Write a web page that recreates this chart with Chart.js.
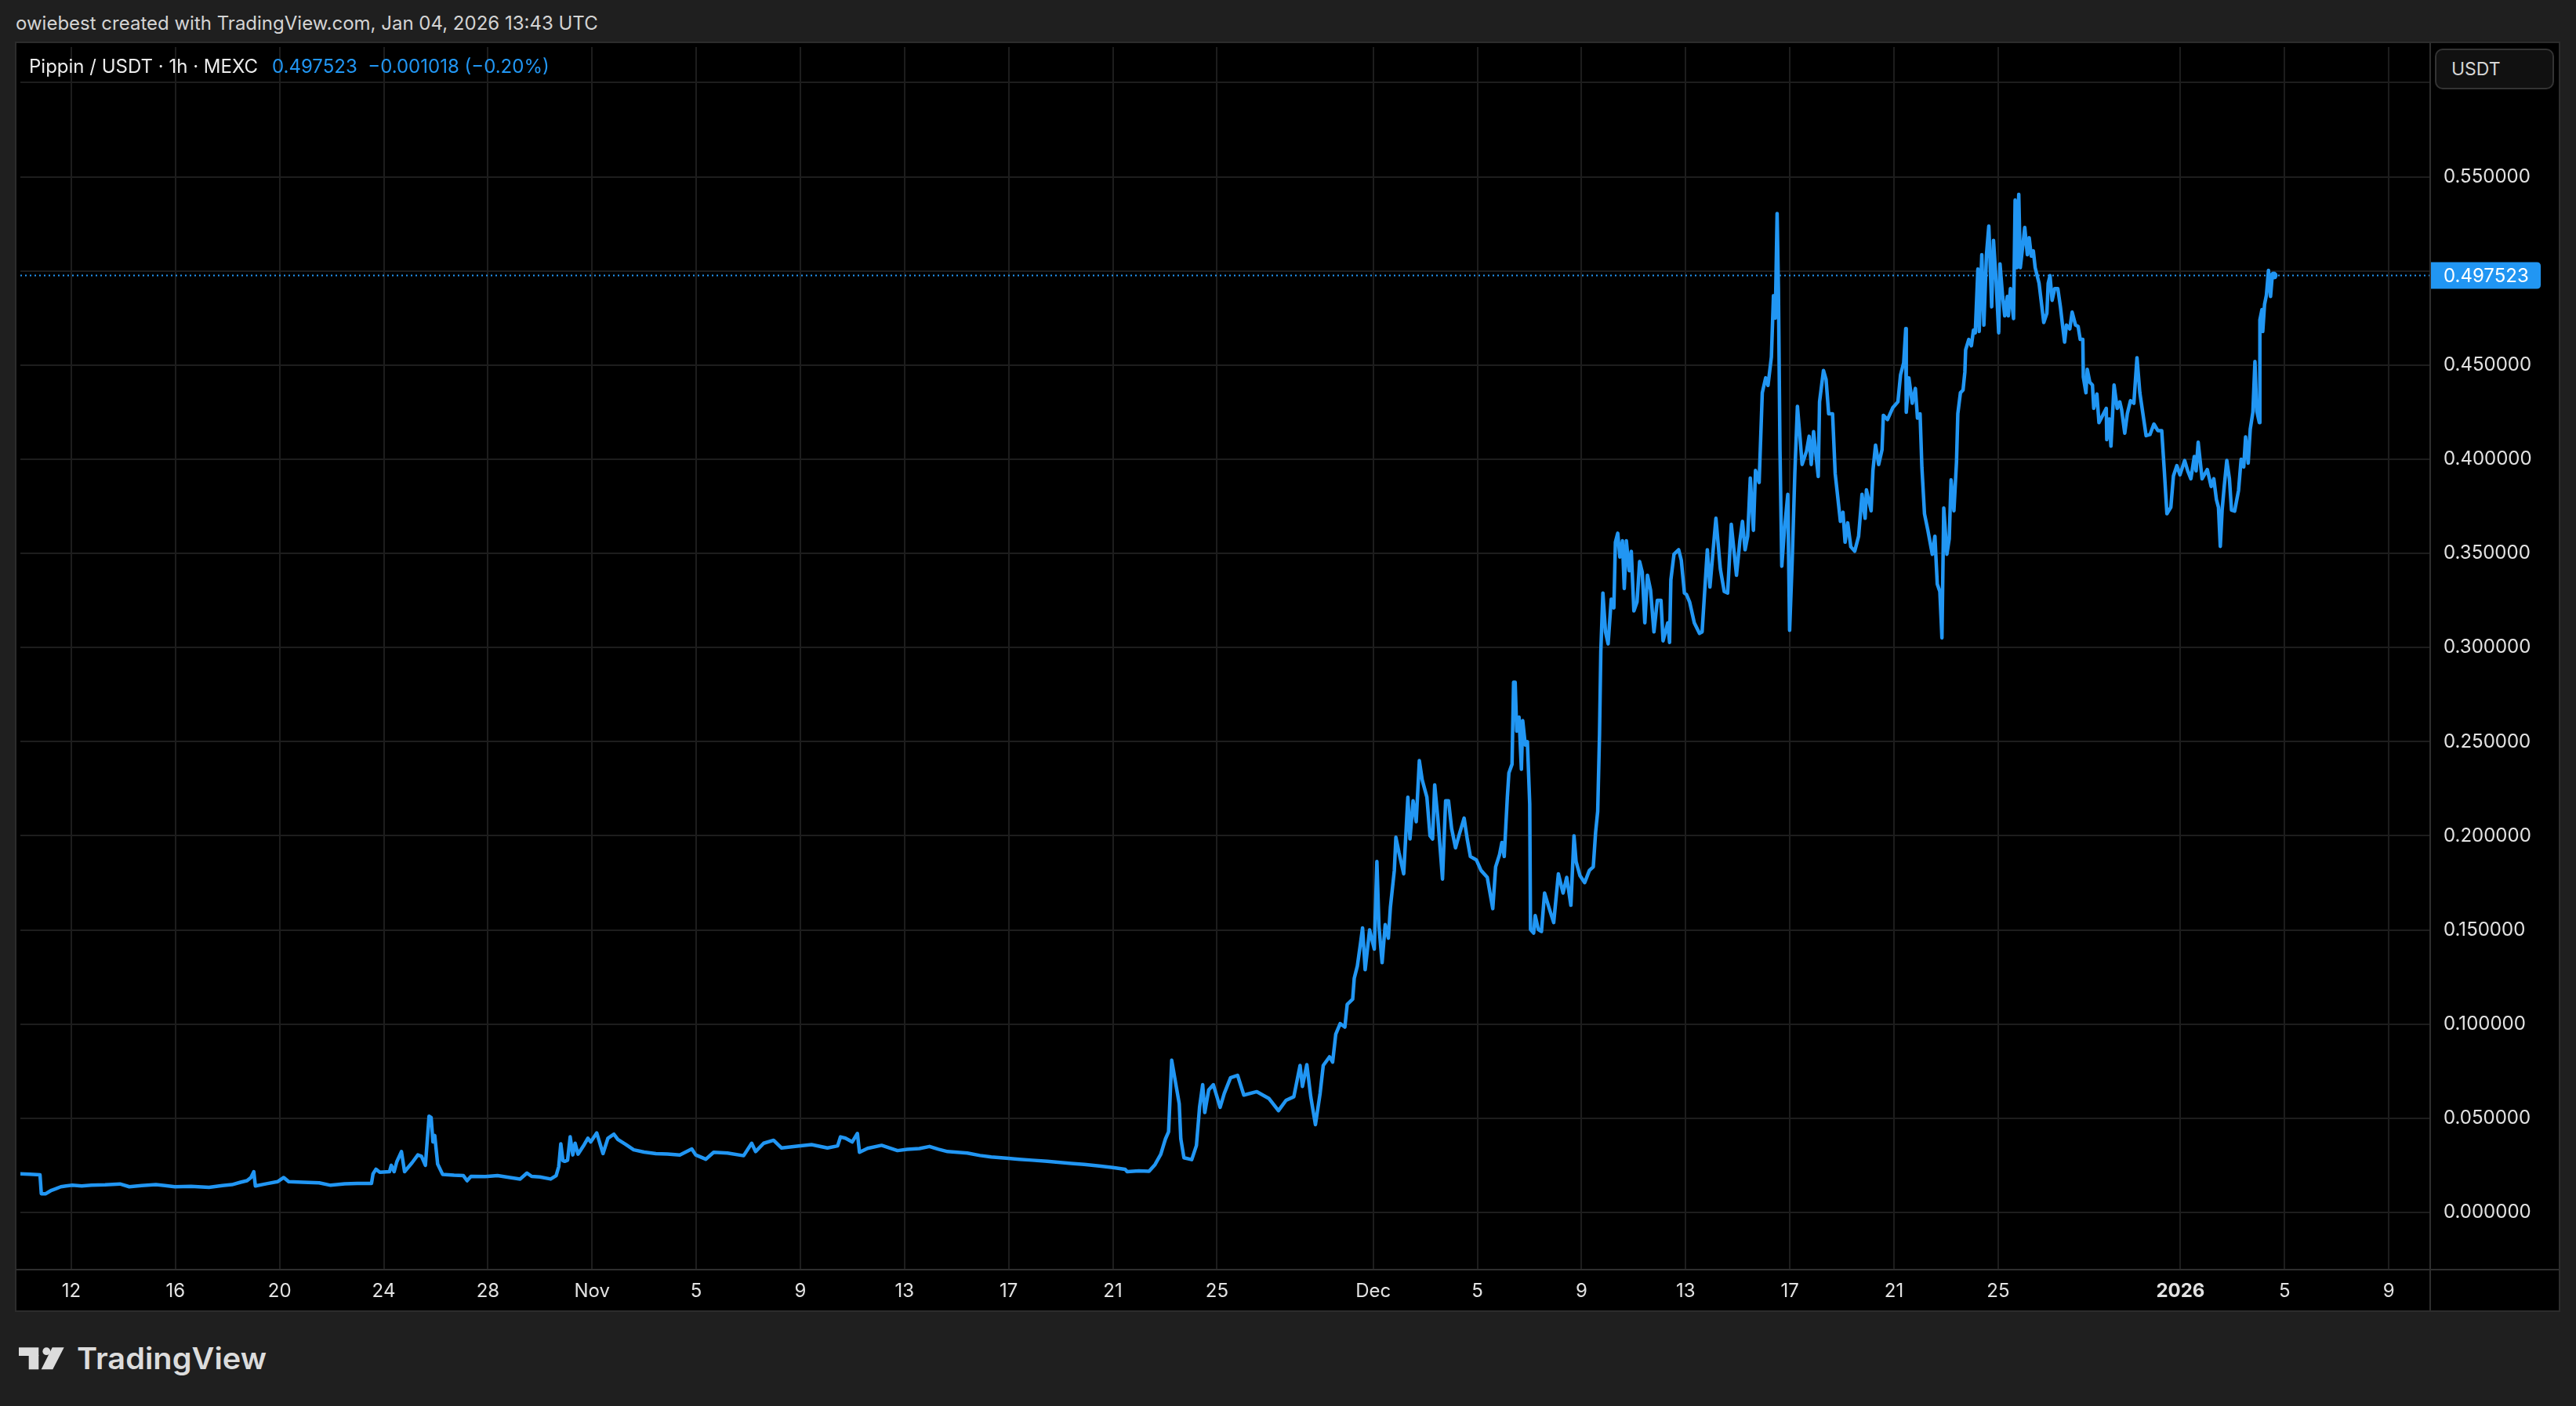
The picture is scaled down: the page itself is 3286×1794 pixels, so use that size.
<!DOCTYPE html>
<html>
<head>
<meta charset="utf-8">
<script src="https://cdn.jsdelivr.net/npm/chart.js@4.4.1/dist/chart.umd.min.js"></script>
<style>
  html, body { margin: 0; padding: 0; width: 3286px; height: 1794px; overflow: hidden; background: #1f1f1f; font-family: Inter, "Noto Sans", sans-serif; }
  #credit { position: absolute; left: 20px; top: 15px; font-size: 24px; color: #d4d4d4; white-space: nowrap; }
  #panel { position: absolute; left: 19px; top: 53px; width: 3247px; height: 1621px; box-sizing: border-box; border: 2px solid #2c2c2c; background: #000; }
  #chart { position: absolute; left: 21px; top: 55px; }
  #legend { position: absolute; left: 37px; top: 70px; font-size: 24px; color: #ececec; white-space: nowrap; }
  #legend .val { color: #2196f3; margin-left: 18px; }
  #unit { position: absolute; left: 3106px; top: 62px; width: 152px; height: 52px; box-sizing: border-box; border: 2px solid #333; border-radius: 10px; background: #111; color: #d6d6d6; font-size: 23px; line-height: 48px; padding-left: 19px; }
  #logo { position: absolute; left: 20px; top: 1715px; }
</style>
</head>
<body>
<div id="credit">owiebest created with TradingView.com, Jan 04, 2026 13:43 UTC</div>
<div id="panel"></div>
<canvas id="chart" width="3243" height="1617"></canvas>
<div id="legend">Pippin / USDT · 1h · MEXC<span class="val">0.497523&nbsp;&nbsp;−0.001018 (−0.20%)</span></div>
<div id="unit">USDT</div>
<svg id="logo" width="340" height="44" viewBox="0 0 340 44">
  <rect x="4" y="4.3" width="25.3" height="10.7" fill="#dcdcdc"/>
  <rect x="16.7" y="14" width="12.6" height="18.3" fill="#dcdcdc"/>
  <circle cx="39.3" cy="9.2" r="4.9" fill="#dcdcdc"/>
  <polygon points="46.7,4.3 61.7,4.3 47.3,32.3 32.7,32.3" fill="#dcdcdc"/>
  <text x="78" y="32.3" font-family="Inter, sans-serif" font-weight="600" font-size="38" fill="#dcdcdc" textLength="242" lengthAdjust="spacingAndGlyphs">TradingView</text>
</svg>
<script>
// time in days since Oct 1 2025, price in USDT (1h Pippin/USDT, MEXC)
const octDays = [9.0, 9.4, 9.8, 9.85, 10.02, 10.15, 10.24, 10.4, 10.6, 10.8, 11.04, 11.4, 11.77, 12.3, 12.87, 13.23, 13.7, 14.25, 14.6, 14.98, 15.6, 16.29, 16.8, 17.17, 17.5, 17.75, 17.9, 18.01, 18.07, 18.5, 18.92, 19.16, 19.35, 19.9, 20.52, 20.96, 21.5, 21.98, 22.53, 22.59, 22.7, 22.85, 23.22, 23.29, 23.4, 23.5, 23.68, 23.8, 24.09, 24.31, 24.45, 24.6, 24.74, 24.82, 24.89, 24.96, 25.07, 25.26, 25.7, 26.06, 26.2, 26.35, 26.9, 27.37, 27.8, 28.24, 28.5, 28.68, 29.0, 29.41, 29.62, 29.72, 29.8, 29.88, 29.95, 30.06, 30.16, 30.26, 30.35, 30.46, 30.7, 30.84, 30.95];
const octPrices = [0.0205, 0.0203, 0.0199, 0.0099, 0.0099, 0.0110, 0.0117, 0.0125, 0.0136, 0.0140, 0.0144, 0.0140, 0.0144, 0.0146, 0.0151, 0.0136, 0.0142, 0.0147, 0.0142, 0.0136, 0.0138, 0.0133, 0.0142, 0.0147, 0.0160, 0.0168, 0.0185, 0.0216, 0.0140, 0.0152, 0.0163, 0.0185, 0.0163, 0.0160, 0.0157, 0.0144, 0.0152, 0.0154, 0.0154, 0.0205, 0.0229, 0.0213, 0.0216, 0.0250, 0.0216, 0.0268, 0.0323, 0.0216, 0.0264, 0.0305, 0.0298, 0.0250, 0.0511, 0.0504, 0.0374, 0.0408, 0.0257, 0.0202, 0.0197, 0.0195, 0.0168, 0.0191, 0.0190, 0.0195, 0.0186, 0.0177, 0.0209, 0.0191, 0.0188, 0.0177, 0.0195, 0.0243, 0.0364, 0.0275, 0.0271, 0.0277, 0.0401, 0.0305, 0.0367, 0.0309, 0.0360, 0.0394, 0.0374];

const novDays = [31.18, 31.42, 31.61, 31.84, 31.99, 32.3, 32.6, 33.0, 33.45, 33.9, 34.37, 34.83, 34.98, 35.37, 35.67, 36.2, 36.82, 37.13, 37.28, 37.59, 37.97, 38.28, 38.8, 39.43, 40.04, 40.43, 40.54, 40.73, 40.99, 41.19, 41.27, 41.58, 42.12, 42.73, 43.1, 43.57, 43.96, 44.3, 44.65, 45.41, 45.9, 46.33, 46.9, 47.41, 47.9, 48.48, 49.4, 49.9, 50.48, 51.0, 51.47, 51.55, 52.0, 52.39, 52.62, 52.84, 53.02, 53.14, 53.26, 53.41, 53.55, 53.61, 53.73, 54.03, 54.21, 54.33, 54.45, 54.53, 54.68, 54.86, 55.12, 55.28, 55.52, 55.79, 56.03, 56.53, 57.0, 57.36, 57.65, 57.95, 58.19, 58.28, 58.45, 58.6, 58.78, 58.96, 59.08, 59.32, 59.44, 59.56, 59.73, 59.91, 60.0, 60.21, 60.27, 60.39, 60.51, 60.59, 60.69, 60.86];
const novPrices = [0.0422, 0.0312, 0.0394, 0.0415, 0.0387, 0.0360, 0.0332, 0.0320, 0.0312, 0.0310, 0.0305, 0.0337, 0.0305, 0.0282, 0.0319, 0.0315, 0.0301, 0.0367, 0.0323, 0.0367, 0.0383, 0.0342, 0.0350, 0.0360, 0.0342, 0.0353, 0.0401, 0.0394, 0.0374, 0.0419, 0.0319, 0.0340, 0.0356, 0.0328, 0.0335, 0.0339, 0.0350, 0.0335, 0.0323, 0.0315, 0.0302, 0.0294, 0.0288, 0.0282, 0.0277, 0.0271, 0.0260, 0.0255, 0.0246, 0.0238, 0.0229, 0.0216, 0.0220, 0.0218, 0.0254, 0.0308, 0.0390, 0.0428, 0.0808, 0.0688, 0.0577, 0.0390, 0.0290, 0.0280, 0.0355, 0.0558, 0.0678, 0.0530, 0.0650, 0.0678, 0.0558, 0.0632, 0.0715, 0.0728, 0.0623, 0.0641, 0.0604, 0.0540, 0.0595, 0.0614, 0.0780, 0.0669, 0.0784, 0.0614, 0.0466, 0.0632, 0.0780, 0.0826, 0.0798, 0.0946, 0.1002, 0.0984, 0.1104, 0.1132, 0.1243, 0.1308, 0.1428, 0.1511, 0.1289, 0.1500];

const decDays = [61.04, 61.14, 61.22, 61.34, 61.46, 61.58, 61.66, 61.81, 61.87, 61.99, 62.17, 62.33, 62.41, 62.53, 62.65, 62.77, 62.88, 63.06, 63.18, 63.28, 63.36, 63.48, 63.66, 63.78, 63.89, 64.01, 64.16, 64.31, 64.49, 64.61, 64.73, 64.96, 65.14, 65.38, 65.59, 65.7, 65.85, 65.94, 66.03, 66.15, 66.21, 66.33, 66.39, 66.45, 66.51, 66.6, 66.69, 66.74, 66.84, 66.92, 67.01, 67.04, 67.16, 67.22, 67.34, 67.46, 67.58, 67.76, 67.93, 68.11, 68.29, 68.43, 68.59, 68.71, 68.79, 68.94, 69.12, 69.3, 69.45, 69.54, 69.62, 69.69, 69.74, 69.82, 69.92, 70.02, 70.14, 70.24, 70.3, 70.39, 70.47, 70.57, 70.64, 70.72, 70.83, 70.91, 71.01, 71.13, 71.23, 71.33, 71.43, 71.53, 71.65, 71.78, 71.91, 72.05, 72.13, 72.31, 72.38, 72.43, 72.55, 72.73, 72.83, 72.95, 73.03, 73.15, 73.33, 73.53, 73.63, 73.83, 73.93, 74.03, 74.16, 74.33, 74.48, 74.61, 74.75, 74.95, 75.08, 75.18, 75.28, 75.38, 75.48, 75.6, 75.68, 75.82, 75.94, 76.07, 76.16, 76.29, 76.37, 76.44, 76.51, 76.56, 76.62, 76.69, 76.79, 76.92, 76.99, 77.09, 77.19, 77.29, 77.39, 77.47, 77.64, 77.74, 77.82, 77.91, 78.09, 78.14, 78.29, 78.39, 78.49, 78.64, 78.74, 78.89, 78.94, 79.04, 79.12, 79.22, 79.34, 79.49, 79.64, 79.77, 79.89, 79.94, 80.12, 80.19, 80.29, 80.41, 80.54, 80.59, 80.75, 80.95, 81.15, 81.25, 81.37, 81.45, 81.47, 81.57, 81.7, 81.82, 81.9, 82.0, 82.07, 82.17, 82.3, 82.47, 82.57, 82.66, 82.76, 82.84, 82.91, 83.03, 83.12, 83.19, 83.3, 83.4, 83.45, 83.55, 83.65, 83.72, 83.75, 83.87, 83.97, 84.05, 84.12, 84.22, 84.27, 84.37, 84.45, 84.55, 84.64, 84.75, 84.82, 84.92, 85.02, 85.07, 85.17, 85.25, 85.35, 85.39, 85.47, 85.59, 85.65, 85.72, 85.79, 85.85, 85.95, 86.02, 86.12, 86.19, 86.27, 86.35, 86.42, 86.57, 86.75, 86.87, 86.92, 86.99, 87.07, 87.17, 87.29, 87.39, 87.47, 87.55, 87.62, 87.75, 87.84, 87.97, 88.07, 88.15, 88.25, 88.27, 88.37, 88.42, 88.52, 88.62, 88.67, 88.79, 88.87, 89.02, 89.15, 89.17, 89.27, 89.33, 89.45, 89.57, 89.67, 89.74, 89.86, 89.96, 90.08, 90.21, 90.33, 90.44, 90.63, 90.68, 90.83, 90.98, 91.13, 91.28, 91.38, 91.48, 91.63, 91.73, 91.86, 91.98];
const decPrices = [0.1398, 0.1863, 0.1519, 0.1326, 0.1528, 0.1456, 0.1622, 0.1816, 0.1992, 0.1909, 0.1798, 0.2205, 0.1983, 0.2186, 0.2075, 0.2399, 0.2297, 0.2205, 0.2000, 0.1983, 0.2270, 0.2094, 0.1770, 0.2186, 0.2186, 0.2038, 0.1936, 0.2010, 0.2094, 0.1983, 0.1890, 0.1872, 0.1816, 0.1779, 0.1613, 0.1835, 0.1900, 0.1964, 0.1890, 0.2205, 0.2334, 0.2380, 0.2815, 0.2815, 0.2556, 0.2630, 0.2353, 0.2612, 0.2482, 0.2500, 0.2168, 0.1502, 0.1483, 0.1576, 0.1502, 0.1492, 0.1696, 0.1613, 0.1539, 0.1798, 0.1696, 0.1779, 0.1631, 0.2000, 0.1863, 0.1788, 0.1751, 0.1816, 0.1835, 0.2019, 0.2130, 0.2538, 0.2982, 0.3289, 0.3083, 0.3019, 0.3257, 0.3210, 0.3559, 0.3607, 0.3480, 0.3567, 0.3313, 0.3567, 0.3408, 0.3511, 0.3194, 0.3242, 0.3456, 0.3400, 0.3131, 0.3384, 0.3305, 0.3083, 0.3250, 0.3250, 0.3035, 0.3131, 0.3027, 0.3360, 0.3495, 0.3519, 0.3464, 0.3289, 0.3281, 0.3242, 0.3131, 0.3075, 0.3083, 0.3519, 0.3321, 0.3480, 0.3686, 0.3416, 0.3297, 0.3289, 0.3654, 0.3384, 0.3567, 0.3670, 0.3519, 0.3591, 0.3900, 0.3622, 0.3940, 0.3876, 0.4352, 0.4432, 0.4392, 0.4543, 0.4868, 0.4749, 0.5305, 0.4908, 0.4051, 0.3432, 0.3622, 0.3813, 0.3091, 0.3464, 0.3924, 0.4281, 0.4114, 0.3972, 0.4043, 0.4122, 0.3972, 0.4146, 0.3908, 0.4305, 0.4471, 0.4424, 0.4241, 0.4241, 0.3924, 0.3733, 0.3670, 0.3718, 0.3559, 0.3662, 0.3535, 0.3511, 0.3591, 0.3813, 0.3686, 0.3837, 0.3726, 0.3940, 0.4075, 0.3972, 0.4051, 0.4233, 0.4210, 0.4273, 0.4305, 0.4448, 0.4511, 0.4694, 0.4249, 0.4432, 0.4297, 0.4376, 0.4218, 0.4241, 0.3956, 0.3710, 0.3622, 0.3495, 0.3591, 0.3337, 0.3297, 0.3051, 0.3741, 0.3495, 0.3578, 0.3890, 0.3726, 0.3987, 0.4242, 0.4353, 0.4367, 0.4463, 0.4581, 0.4636, 0.4602, 0.4685, 0.4671, 0.5010, 0.4678, 0.5086, 0.4712, 0.5086, 0.5238, 0.4809, 0.5162, 0.4947, 0.4671, 0.5037, 0.4864, 0.4761, 0.4864, 0.4761, 0.4906, 0.4747, 0.5376, 0.5017, 0.5407, 0.5017, 0.5141, 0.5231, 0.5086, 0.5176, 0.5079, 0.5106, 0.5017, 0.4934, 0.4726, 0.4775, 0.4934, 0.4975, 0.4844, 0.4906, 0.4906, 0.4809, 0.4712, 0.4622, 0.4712, 0.4692, 0.4781, 0.4712, 0.4705, 0.4636, 0.4636, 0.4436, 0.4353, 0.4477, 0.4408, 0.4394, 0.4270, 0.4346, 0.4194, 0.4235, 0.4270, 0.4104, 0.4214, 0.4069, 0.4394, 0.4270, 0.4304, 0.4263, 0.4138, 0.4242, 0.4311, 0.4297, 0.4539, 0.4353, 0.4173, 0.4125, 0.4131, 0.4187, 0.4152, 0.4152, 0.3938, 0.3710, 0.3744, 0.3911, 0.3966, 0.3917];

const janDays = [92.16, 92.28, 92.4, 92.53, 92.6, 92.68, 92.83, 93.03, 93.18, 93.28, 93.38, 93.46, 93.53, 93.6, 93.68, 93.78, 93.88, 93.96, 94.08, 94.23, 94.33, 94.43, 94.5, 94.6, 94.68, 94.78, 94.86, 94.93, 95.03, 95.05, 95.13, 95.16, 95.23, 95.3, 95.38, 95.46, 95.53, 95.58];
const janPrices = [0.3993, 0.3938, 0.3896, 0.4014, 0.3938, 0.4090, 0.3896, 0.3945, 0.3855, 0.3896, 0.3786, 0.3744, 0.3537, 0.3730, 0.3855, 0.3993, 0.3896, 0.3730, 0.3724, 0.3834, 0.4000, 0.3959, 0.4118, 0.3979, 0.4159, 0.4249, 0.4519, 0.4256, 0.4194, 0.4740, 0.4795, 0.4678, 0.4823, 0.4871, 0.5003, 0.4864, 0.4982, 0.497523];

const lastPrice = 0.497523;

// axes
const dayTicks = [11, 15, 19, 23, 27, 31, 35, 39, 43, 47, 51, 55, 61, 65, 69, 73, 77, 81, 85, 92, 96, 100];
const dayLabels = ['12', '16', '20', '24', '28', 'Nov', '5', '9', '13', '17', '21', '25', 'Dec', '5', '9', '13', '17', '21', '25', '2026', '5', '9'];
const priceTicks = [0, 0.05, 0.1, 0.15, 0.2, 0.25, 0.3, 0.35, 0.4, 0.45, 0.5, 0.55, 0.6];
const dayRange = [9.046, 101.56];
const priceRange = [-0.03, 0.6189];

const BLUE = '#2196f3';
const GRID = '#1d1d1d';
const LINE = '#2e2e2e';
const TEXT = '#e2e2e2';

const days = octDays.concat(novDays, decDays, janDays);
const prices = octPrices.concat(novPrices, decPrices, janPrices);
const series = days.map((d, i) => ({ x: d, y: prices[i] }));

const panelLines = {
  id: 'panelLines',
  afterDraw(chart) {
    const { ctx, chartArea, width, height } = chart;
    ctx.save();
    ctx.strokeStyle = LINE;
    ctx.lineWidth = 2;
    ctx.beginPath();
    ctx.moveTo(chartArea.right + 1, 0);
    ctx.lineTo(chartArea.right + 1, height);
    ctx.moveTo(0, chartArea.bottom + 1);
    ctx.lineTo(width, chartArea.bottom + 1);
    ctx.stroke();

    // last price tag on the price scale
    const y = chart.scales.y.getPixelForValue(lastPrice);
    const x0 = chartArea.right + 2;
    const w = 140, h = 34, r = 5;
    ctx.fillStyle = BLUE;
    ctx.beginPath();
    ctx.moveTo(x0, y - h / 2);
    ctx.lineTo(x0 + w - r, y - h / 2);
    ctx.quadraticCurveTo(x0 + w, y - h / 2, x0 + w, y - h / 2 + r);
    ctx.lineTo(x0 + w, y + h / 2 - r);
    ctx.quadraticCurveTo(x0 + w, y + h / 2, x0 + w - r, y + h / 2);
    ctx.lineTo(x0, y + h / 2);
    ctx.closePath();
    ctx.fill();
    ctx.fillStyle = '#ffffff';
    ctx.font = '24px Inter, sans-serif';
    ctx.textBaseline = 'middle';
    ctx.textAlign = 'left';
    ctx.fillText(lastPrice.toFixed(6), chartArea.right + 18, y + 1);
    ctx.restore();
  }
};

new Chart(document.getElementById('chart'), {
  type: 'line',
  data: {
    datasets: [
      {
        data: series,
        borderColor: BLUE,
        borderWidth: 4.5,
        borderJoinStyle: 'round',
        tension: 0,
        pointRadius: (ctx) => (ctx.dataIndex === series.length - 1 ? 5 : 0),
        pointBackgroundColor: BLUE,
        pointBorderWidth: 0,
        order: 0,
      },
      {
        data: [{ x: dayRange[0], y: lastPrice }, { x: dayRange[1], y: lastPrice }],
        borderColor: BLUE,
        borderWidth: 2,
        borderDash: [2, 4],
        pointRadius: 0,
        order: 1,
      },
    ],
  },
  options: {
    responsive: false,
    animation: false,
    layout: { padding: 0 },
    plugins: { legend: { display: false }, tooltip: { enabled: false } },
    scales: {
      x: {
        type: 'linear',
        position: 'bottom',
        min: dayRange[0],
        max: dayRange[1],
        afterBuildTicks: (s) => { s.ticks = dayTicks.map((v) => ({ value: v })); },
        afterFit: (s) => { s.height = 53; s.paddingLeft = 0; s.paddingRight = 0; },
        grid: { color: GRID, lineWidth: 2, drawTicks: false },
        border: { display: false },
        ticks: {
          autoSkip: false,
          maxRotation: 0,
          padding: 14,
          color: TEXT,
          font: (ctx) => ({ family: 'Inter', size: 24, weight: dayLabels[ctx.index] === '2026' ? 'bold' : 'normal' }),
          callback: (v, i) => dayLabels[i],
        },
      },
      y: {
        type: 'linear',
        position: 'right',
        min: priceRange[0],
        max: priceRange[1],
        afterBuildTicks: (s) => { s.ticks = priceTicks.map((v) => ({ value: v })); },
        afterFit: (s) => { s.width = 165; s.paddingTop = 0; s.paddingBottom = 0; },
        grid: { color: GRID, lineWidth: 2, drawTicks: false },
        border: { display: false },
        ticks: {
          padding: 18,
          color: TEXT,
          font: { family: 'Inter', size: 24 },
          callback: (v) => v.toFixed(6),
        },
      },
    },
  },
  plugins: [panelLines],
});
</script>
</body>
</html>
